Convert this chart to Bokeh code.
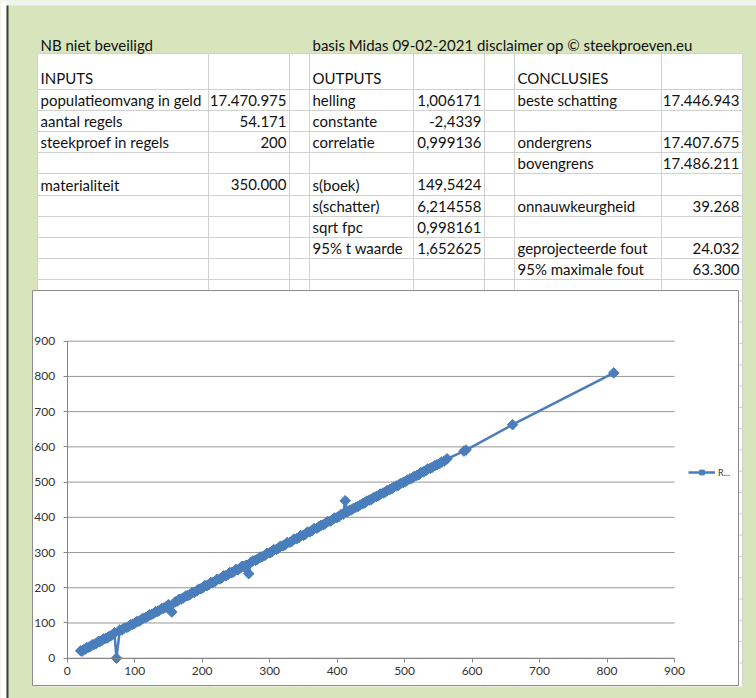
import math
from bokeh.plotting import figure
from bokeh.models import Range1d, FixedTicker, Legend, LegendItem, ColumnDataSource
from bokeh.embed import file_html
from bokeh.resources import INLINE
from bokeh.core.properties import value

# ---------------- data ----------------
boekwaarde = [20, 22, 24, 27, 29, 32, 35, 37, 40, 43, 46, 48, 51, 54, 57, 60, 63, 66, 70, 73,
              78, 81, 84, 88, 91, 94, 97, 100, 103, 106, 109, 112, 116, 119, 122, 125, 128, 131, 134, 137,
              140, 143, 146, 150, 155, 160, 163, 166, 169, 172, 176, 179, 182, 185, 188, 192, 195, 198, 201, 204,
              207, 210, 213, 216, 219, 222, 226, 229, 232, 235, 238, 241, 244, 247, 250, 253, 256, 259, 262, 265,
              269, 272, 275, 279, 282, 286, 289, 293, 296, 300, 303, 306, 310, 313, 316, 320, 323, 326, 330, 333,
              336, 340, 343, 346, 350, 353, 356, 360, 363, 366, 370, 373, 376, 380, 383, 386, 390, 393, 396, 400,
              403, 406, 409, 412, 415, 418, 421, 424, 428, 431, 434, 438, 441, 444, 448, 451, 454, 458, 461, 464,
              468, 471, 474, 478, 481, 484, 488, 491, 494, 498, 501, 504, 508, 511, 514, 518, 521, 524, 528, 531,
              534, 538, 541, 545, 548, 552, 555, 559, 563, 588, 591, 660, 810]
controlewaarde = [21, 20, 24, 26, 30, 31, 34, 38, 39, 42, 47, 47, 50, 55, 56, 58, 63, 65, 72, 0,
                  80, 80, 85, 87, 90, 95, 96, 99, 104, 105, 108, 113, 115, 118, 123, 124, 127, 132, 133, 136,
                  141, 142, 145, 152, 131, 160, 162, 167, 168, 171, 177, 178, 181, 186, 187, 191, 196, 197, 200, 206,
                  206, 209, 215, 215, 218, 224, 225, 228, 234, 234, 237, 243, 243, 246, 252, 251, 255, 261, 260, 264,
                  240, 272, 276, 278, 281, 287, 288, 292, 298, 299, 302, 308, 309, 312, 318, 319, 322, 328, 329, 332,
                  338, 339, 342, 348, 349, 352, 358, 359, 362, 368, 369, 373, 377, 379, 383, 388, 389, 393, 398, 399,
                  403, 408, 409, 447, 415, 419, 421, 425, 429, 431, 435, 439, 441, 446, 449, 451, 456, 459, 461, 466,
                  469, 471, 476, 479, 481, 486, 489, 491, 496, 499, 501, 506, 509, 511, 516, 519, 521, 527, 529, 532,
                  537, 539, 542, 547, 549, 553, 557, 560, 566, 588, 591, 663, 810]
x_ticks = [0, 100, 200, 300, 400, 500, 600, 700, 800, 900]
y_ticks = [0, 100, 200, 300, 400, 500, 600, 700, 800, 900]
series_name = "R..."

# ---------------- spreadsheet texts ----------------
title_left = "NB niet beveiligd"
title_right = "basis Midas 09-02-2021 disclaimer op \u00a9 steekproeven.eu"
headers = ["INPUTS", "OUTPUTS", "CONCLUSIES"]
input_labels = ["populatieomvang in geld", "aantal regels", "steekproef in regels", "", "materialiteit"]
input_values = ["17.470.975", "54.171", "200", "", "350.000"]
output_labels = ["helling", "constante", "correlatie", "", "s(boek)", "s(schatter)", "sqrt fpc", "95% t waarde"]
output_values = ["1,006171", "-2,4339", "0,999136", "", "149,5424", "6,214558", "0,998161", "1,652625"]
concl_labels = ["beste schatting", "", "ondergrens", "bovengrens", "", "onnauwkeurgheid", "",
                "geprojecteerde fout", "95% maximale fout"]
concl_values = ["17.446.943", "", "17.407.675", "17.486.211", "", "39.268", "", "24.032", "63.300"]

# ---------------- styling / page geometry (screen pixels) ----------------
GREEN = "#d8e4bc"
CELL_LINE = "#d0d0d0"
BOX_LINE = "#8c8c8c"
DARK = "#3c3c3c"
BLUE = "#4a7ebb"
FONT = "Lato"
FS = "15px"
W, H = 756, 698
X0_PX, X900_PX = 66.7, 674.0      # where the x axis 0 and 900 fall on the page
Y0_PX, Y900_PX = 657.7, 340.7     # where the y axis 0 and 900 fall on the page
S_X = (X900_PX - X0_PX) / (x_ticks[-1] - x_ticks[0])
S_Y = (Y0_PX - Y900_PX) / (y_ticks[-1] - y_ticks[0])


def X(px):
    return (px - X0_PX) / S_X


def Y(py):
    return (Y0_PX - py) / S_Y


row_lines = [53, 89, 110, 131, 152, 173, 195, 216, 237, 258, 279]
row_lines += [279 + 21.3 * k for k in range(1, 19)]
col_lines = [37, 208, 289, 309, 413, 484, 514, 661, 742]
TABLE_BOTTOM = 686
CH = dict(left=32, right=738, top=290, bottom=685)

p = figure(width=W, height=H, x_range=Range1d(X(0), X(W)), y_range=Range1d(Y(H), Y(0)),
           toolbar_location=None, output_backend="svg", min_border=0)
p.background_fill_color = GREEN
p.border_fill_color = GREEN
p.outline_line_color = None
p.xgrid.visible = False
p.ygrid.visible = False

# page chrome
p.quad(left=[X(0)], right=[X(W)], top=[Y(0)], bottom=[Y(5)], fill_color="#f2f2f2", line_color=None)
p.quad(left=[X(0)], right=[X(6)], top=[Y(0)], bottom=[Y(H)], fill_color="white", line_color=None)
p.quad(left=[X(6)], right=[X(8)], top=[Y(5)], bottom=[Y(H)], fill_color=DARK, line_color=None)

# spreadsheet cells
p.quad(left=[X(37)], right=[X(742)], top=[Y(53)], bottom=[Y(TABLE_BOTTOM)], fill_color="white", line_color=None)
p.segment(x0=[X(37)] * len(row_lines), x1=[X(742)] * len(row_lines),
          y0=[Y(v) for v in row_lines], y1=[Y(v) for v in row_lines], line_color=CELL_LINE, line_width=1)
p.segment(x0=[X(v) for v in col_lines], x1=[X(v) for v in col_lines],
          y0=[Y(53)] * len(col_lines), y1=[Y(TABLE_BOTTOM)] * len(col_lines), line_color=CELL_LINE, line_width=1)

lx, ly, lt = [40, 312, 40, 312, 517], [44, 44, 77, 77, 77], [title_left, title_right] + headers
rx, ry, rt = [], [], []


def row_center(i):
    return (row_lines[i + 1] + row_lines[i + 2]) / 2


for labels, values, xl, xr in [(input_labels, input_values, 40, 286),
                               (output_labels, output_values, 312, 481),
                               (concl_labels, concl_values, 517, 739)]:
    for i, (lab, val) in enumerate(zip(labels, values)):
        if lab:
            lx.append(xl); ly.append(row_center(i)); lt.append(lab)
        if val:
            rx.append(xr); ry.append(row_center(i)); rt.append(val)

p.text(x=[X(v) for v in lx], y=[Y(v) for v in ly], text=lt, text_font=value(FONT), text_font_size=FS,
       text_color="#111111", text_align="left", text_baseline="middle")
p.text(x=[X(v) for v in rx], y=[Y(v) for v in ry], text=rt, text_font=value(FONT), text_font_size=FS,
       text_color="#111111", text_align="right", text_baseline="middle")

# chart box
p.quad(left=[X(CH["left"])], right=[X(CH["right"])], top=[Y(CH["top"])], bottom=[Y(CH["bottom"])],
       fill_color="white", line_color=BOX_LINE, line_width=1)

# horizontal gridlines across 0..900
p.segment(x0=[x_ticks[0]] * len(y_ticks), x1=[x_ticks[-1]] * len(y_ticks), y0=y_ticks, y1=y_ticks,
          line_color="#969696", line_width=1)

for ax, ticks, standoff in [(p.xaxis, x_ticks, 5), (p.yaxis, y_ticks, 8)]:
    ax.fixed_location = 0
    ax.ticker = FixedTicker(ticks=ticks)
    ax.bounds = (ticks[0], ticks[-1])
    ax.axis_line_color = "#868686"
    ax.major_tick_line_color = "#868686"
    ax.major_tick_out = 4
    ax.major_tick_in = 0
    ax.minor_tick_line_color = None
    ax.major_label_standoff = standoff
    ax.major_label_text_font = FONT
    ax.major_label_text_font_size = "12px"
    ax.major_label_text_color = "#333333"

src = ColumnDataSource(dict(x=boekwaarde, y=controlewaarde))
ln = p.line("x", "y", source=src, line_color=BLUE, line_width=2.5)
sc = p.scatter("x", "y", source=src, marker="square", angle=math.pi / 4, size=7.5,
               fill_color=BLUE, line_color=BLUE)

legend = Legend(items=[LegendItem(label=series_name, renderers=[ln, sc])], location=(688, H - 478),
                border_line_color=None, background_fill_alpha=0, padding=0, margin=0,
                glyph_width=27, glyph_height=12, label_standoff=3,
                label_text_font=FONT, label_text_font_size="9px", label_text_color="#333333")
p.add_layout(legend)

with open("out.html", "w") as fh:
    fh.write(file_html(p, INLINE))
